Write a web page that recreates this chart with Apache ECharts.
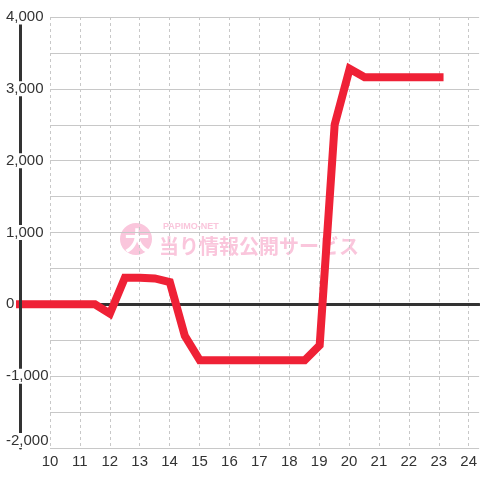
<!DOCTYPE html>
<html>
<head>
<meta charset="utf-8">
<script src="https://cdn.jsdelivr.net/npm/echarts@6/dist/echarts.min.js"></script>
<style>
  html, body { margin: 0; padding: 0; background: #fff; }
  #chart { width: 480px; height: 480px; }
</style>
</head>
<body>
<div id="chart"></div>
<script>
// 時刻 (0.5時間ごと) と差枚数
const hours = [9, 9.5, 10, 10.5, 11, 11.5, 12, 12.5, 13, 13.5, 14, 14.5, 15, 15.5, 16,
  16.5, 17, 17.5, 18, 18.5, 19, 19.5, 20, 20.5, 21, 21.5, 22, 22.5, 23];
const values = [0, 0, 0, 0, 0, 0, -130, 370, 370, 360, 310, -440, -780, -780, -780,
  -780, -780, -780, -780, -780, -570, 2500, 3280, 3160, 3160, 3160, 3160, 3160, 3160];
const yTicks = [-2000, -1000, 0, 1000, 2000, 3000, 4000];

const chart = echarts.init(document.getElementById('chart'));

const fontFamily = '"Liberation Sans", Arial, sans-serif';
const pink = '#fac6dc';
const xMax = 24.35;
const yMin = yTicks[0];
const yMax = yTicks[yTicks.length - 1];

const option = {
  backgroundColor: '#fff',
  animation: false,
  // grid 0: 目盛線とラベル, grid 1: 線と左軸 (9時から)
  grid: [
    { left: 50, right: 0, top: 17, bottom: 32 },
    { left: 20, right: 0, top: 17, bottom: 32 }
  ],
  xAxis: [
    {
      type: 'value',
      gridIndex: 0,
      min: 10,
      max: xMax,
      interval: 1,
      axisLine: { show: false, onZero: false },
      axisTick: { show: false },
      axisLabel: {
        color: '#333',
        fontSize: 15,
        fontFamily,
        margin: 6,
        showMaxLabel: false,
        formatter: (v) => (Number.isInteger(v) ? String(v) : '')
      },
      splitLine: {
        show: true,
        showMaxLine: false,
        lineStyle: { color: '#c8c8c8', type: [3, 3], width: 1 }
      }
    },
    {
      // 0 の基準線
      type: 'value',
      gridIndex: 0,
      position: 'top',
      min: 10,
      max: xMax,
      axisLine: { show: true, onZero: true, lineStyle: { color: '#333', width: 3 } },
      axisTick: { show: false },
      axisLabel: { show: false },
      splitLine: { show: false }
    },
    {
      type: 'value',
      gridIndex: 1,
      min: 9,
      max: xMax,
      show: false
    }
  ],
  yAxis: [
    {
      type: 'value',
      gridIndex: 0,
      min: yMin,
      max: yMax,
      interval: 500,
      axisLine: { show: false },
      axisTick: { show: false },
      axisLabel: { show: false },
      splitLine: { show: true, lineStyle: { color: '#c8c8c8', width: 1 } }
    },
    {
      type: 'value',
      gridIndex: 1,
      position: 'left',
      z: 5,
      min: yMin,
      max: yMax,
      interval: 1000,
      axisLine: { show: true, onZero: false, lineStyle: { color: '#333', width: 3 } },
      axisTick: { show: false },
      axisLabel: {
        color: '#333',
        fontSize: 15,
        fontFamily,
        align: 'left',
        margin: 14,
        backgroundColor: '#fff',
        verticalAlignMinLabel: 'bottom',
        formatter: (v) => v.toLocaleString('en-US')
      },
      splitLine: { show: false }
    }
  ],
  graphic: [
    {
      type: 'group',
      z: -1,
      children: [
        { type: 'circle', shape: { cx: 136, cy: 239, r: 16 }, style: { fill: pink } },
        {
          type: 'text', x: 137, y: 240,
          style: {
            text: '大', fill: '#fff', font: 'bold 25px "Noto Sans CJK JP"',
            align: 'center', verticalAlign: 'middle'
          }
        },
        {
          type: 'text', x: 163, y: 227,
          style: {
            text: 'PAPIMO-NET', fill: pink, font: 'bold 9px "Liberation Sans", Arial',
            align: 'left', verticalAlign: 'middle'
          }
        },
        {
          type: 'text', x: 159, y: 246,
          style: {
            text: '当り情報公開サービス', fill: pink, font: 'bold 20px "Noto Sans CJK JP"',
            align: 'left', verticalAlign: 'middle'
          }
        }
      ]
    }
  ],
  series: [
    {
      type: 'line',
      xAxisIndex: 2,
      yAxisIndex: 1,
      data: hours.map((h, i) => [h, values[i]]),
      symbol: 'none',
      z: 2,
      lineStyle: { color: '#ef2136', width: 8, cap: 'square', join: 'miter' }
    }
  ]
};

chart.setOption(option);
</script>
</body>
</html>
